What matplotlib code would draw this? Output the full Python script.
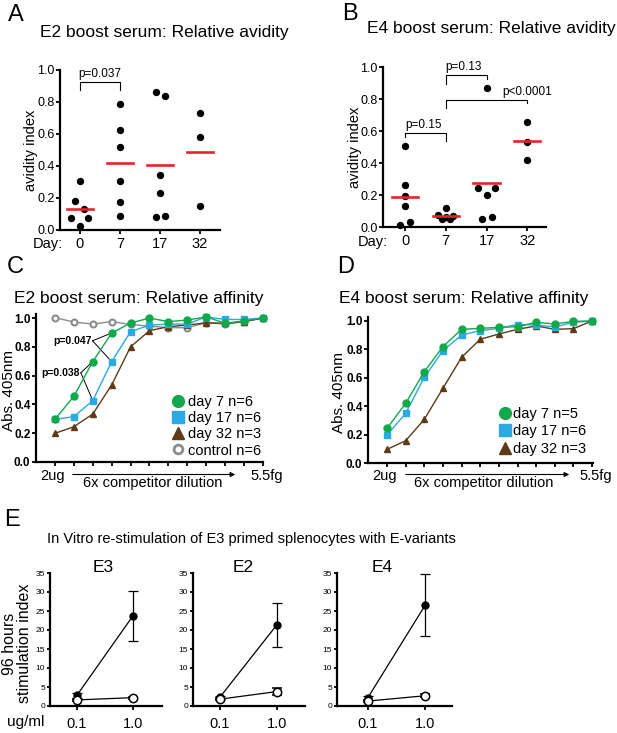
import numpy as np
import matplotlib
matplotlib.use('Agg')
import matplotlib.pyplot as plt
from matplotlib.lines import Line2D

plt.rcParams['font.family'] = ['Liberation Sans', 'DejaVu Sans']

W, H = 617, 733

# A / B: avidity index per day (dots) with jitter offsets
days = ['0', '7', '17', '32']
e2_avidity = [[0.306, 0.183, 0.077, 0.131, 0.073, 0.027],
              [0.79, 0.627, 0.519, 0.304, 0.177, 0.085],
              [0.865, 0.835, 0.344, 0.233, 0.079, 0.085],
              [0.731, 0.583, 0.148]]
e2_jitter = [[0, -0.125, -0.22, 0.11, 0.21, 0],
             [0, 0, 0, 0, 0, 0],
             [-0.11, 0.125, 0, 0, -0.11, 0.125],
             [0, 0, 0]]
e4_avidity = [[0.508, 0.263, 0.196, 0.129, 0.013, 0.029],
              [0.12, 0.075, 0.07, 0.05, 0.05, 0.06],
              [0.871, 0.242, 0.242, 0.2, 0.05, 0.06],
              [0.656, 0.533, 0.419]]
e4_jitter = [[0, 0, 0, 0, -0.115, 0.12],
             [0, -0.19, 0.18, -0.1, 0.1, 0],
             [0, -0.2, 0.2, 0, -0.1, 0.14],
             [0, 0, 0]]

# C / D: relative affinity over 12 dilution steps
steps = np.arange(12)
c_day7 = [0.296, 0.456, 0.697, 0.896, 0.965, 1.0, 0.975, 0.986, 1.008, 0.963, 0.98, 1.0]
c_day17 = [0.296, 0.315, 0.426, 0.697, 0.905, 0.951, 0.958, 0.958, 1.008, 0.99, 0.99, 1.0]
c_day32 = [0.199, 0.245, 0.333, 0.535, 0.80, 0.912, 0.94, 0.951, 0.967, 0.963, 0.975, 1.0]
c_control = [1.003, 0.972, 0.958, 0.975, 0.955, 0.944, 0.933, 0.933, 0.967, 0.958, 0.975, 1.0]
d_day7 = [0.244, 0.42, 0.643, 0.819, 0.941, 0.948, 0.955, 0.96, 0.99, 0.979, 0.997, 1.0]
d_day17 = [0.197, 0.35, 0.603, 0.791, 0.901, 0.932, 0.948, 0.975, 0.972, 0.958, 0.99, 1.0]
d_day32 = [0.096, 0.157, 0.307, 0.526, 0.744, 0.871, 0.908, 0.941, 0.965, 0.941, 0.946, 1.0]

# E: stimulation index
conc = ['0.1', '1.0']
e3_filled, e3_filled_err = [2.8, 23.7], [0.7, 6.5]
e3_open, e3_open_err = [1.6, 2.2], [0.2, 0.3]
e2_filled, e2_filled_err = [2.3, 21.4], [0.4, 5.8]
e2_open, e2_open_err = [1.8, 3.8], [0.2, 1.0]
e4_filled, e4_filled_err = [2.2, 26.5], [0.5, 8.2]
e4_open, e4_open_err = [1.3, 2.7], [0.2, 0.4]

RED = '#e3242b'
GREEN = '#12a84b'
BLUE = '#2aaae2'
BROWN = '#5e3a16'
GRAY = '#8c8c8c'

fig = plt.figure(figsize=(W / 100, H / 100), dpi=100)


def px_rect(x0, y0, x1, y1):
    return [x0 / W, 1 - y1 / H, (x1 - x0) / W, (y1 - y0) / H]


def ftext(x, y, s, **kw):
    kw.setdefault('ha', 'center')
    kw.setdefault('va', 'center')
    fig.text(x / W, 1 - y / H, s, **kw)


def style(ax):
    for s in ['top', 'right']:
        ax.spines[s].set_visible(False)
    for s in ['left', 'bottom']:
        ax.spines[s].set_linewidth(1.6)
    ax.tick_params(width=1.3, length=3, direction='out')


def avidity_panel(rect, xlim, values, jitter, brackets, ylab_x):
    ax = fig.add_axes(px_rect(*rect))
    for i, (vals, jit) in enumerate(zip(values, jitter)):
        ax.scatter(i + np.array(jit), vals, s=28, color='black', linewidths=0,
                   zorder=3, clip_on=False)
        m = np.mean(vals)
        ax.plot([i - 0.32, i + 0.32], [m, m], color=RED, lw=1.9, zorder=4)
    ax.set_xlim(*xlim)
    ax.set_ylim(0, 1.0)
    ax.set_yticks(np.arange(0, 1.01, 0.2))
    ax.set_yticklabels(['%.1f' % v for v in np.arange(0, 1.01, 0.2)], fontsize=9)
    ax.set_xticks(range(len(days)))
    ax.set_xticklabels(days, fontsize=10.5)
    style(ax)
    ax.tick_params(axis='x', pad=2)
    ax.tick_params(axis='y', pad=1)
    ax.set_ylabel('avidity index', fontsize=10.5)
    ax.yaxis.set_label_coords(ylab_x, 0.5)
    for x1, x2, y, d1, d2, label, lx in brackets:
        ax.plot([x1, x1, x2, x2], [y - d1, y, y, y - d2], color='k', lw=0.8,
                clip_on=False)
        ax.text(lx, y + 0.015, label, ha='center', va='bottom', fontsize=8.5)
    return ax


def affinity_panel(rect, xlim, series, legend_left, legend_bottom, spacing, pad):
    ax = fig.add_axes(px_rect(*rect))
    handles = []
    for vals, color, marker, ms, label, open_m in series:
        if open_m:
            ax.plot(steps, vals, color=color, lw=1.0, marker=marker, ms=ms,
                    mfc='white', mec=color, mew=1.5, clip_on=False)
            handles.append(Line2D([], [], ls='none', marker=marker, ms=ms + 2,
                                  mfc='white', mec=color, mew=2.0, label=label))
        else:
            ax.plot(steps, vals, color=color, lw=1.0, marker=marker, ms=ms,
                    mec=color, clip_on=False)
            handles.append(Line2D([], [], ls='none', marker=marker, ms=ms + 3.5,
                                  color=color, label=label))
    ax.set_xlim(*xlim)
    ax.set_ylim(0, 1.03)
    ax.set_xticks(steps)
    ax.set_xticklabels([])
    ax.set_yticks(np.arange(0, 1.01, 0.2))
    ax.set_yticklabels(['%.1f' % v for v in np.arange(0, 1.01, 0.2)],
                       fontsize=8.5, fontweight='bold')
    style(ax)
    ax.tick_params(axis='y', pad=1)
    ax.set_ylabel('Abs. 405nm', fontsize=11)
    handles = handles[::-1]
    ax.legend(handles=handles, loc='lower left',
              bbox_to_anchor=(legend_left, legend_bottom), frameon=False,
              fontsize=10.5, borderpad=0, borderaxespad=0, handlelength=0.8,
              handletextpad=pad, labelspacing=spacing)
    return ax


# ---- A ----
ax_a = avidity_panel((60, 70, 220, 230), (-0.5, 3.5), e2_avidity, e2_jitter,
                     [(0, 1, 0.923, 0.048, 0.048, 'p=0.037', 0.5)], -0.14)
# ---- B ----
ax_b = avidity_panel((383, 67, 546, 227), (-0.54, 3.46), e4_avidity, e4_jitter,
                     [(0, 1, 0.585, 0.025, 0.05, 'p=0.15', 0.46),
                      (1, 2, 0.95, 0.056, 0.025, 'p=0.13', 1.44),
                      (1, 3, 0.794, 0.052, 0.021, 'p<0.0001', 3.0)], -0.13)

ftext(15.5, 15, 'A', fontsize=17)
ftext(350, 13.5, 'B', fontsize=17)
ftext(164, 33, 'E2 boost serum: Relative avidity', fontsize=12.5)
ftext(491.5, 29, 'E4 boost serum: Relative avidity', fontsize=12.5)
ftext(63, 244, 'Day:', ha='right', fontsize=10.5)
ftext(388, 242, 'Day:', ha='right', fontsize=10.5)

# ---- C ----
c_series = [(c_control, GRAY, 'o', 4.3, 'control n=6', True),
            (c_day32, BROWN, '^', 5.0, 'day 32 n=3', False),
            (c_day17, BLUE, 's', 4.5, 'day 17 n=6', False),
            (c_day7, GREEN, 'o', 5.0, 'day 7 n=6', False)]
ax_c = affinity_panel((36, 313.7, 263, 462), (-1.0, 11.0), c_series,
                      0.601, 0.03, 0.15, 0.28)
ax_c.yaxis.set_label_coords(-0.09, 0.48)
for x_txt, y_txt, idx, label in [(1.94, 0.842, 3, 'p=0.047'),
                                 (1.32, 0.62, 2, 'p=0.038')]:
    ax_c.text(x_txt, y_txt, label, ha='right', va='center', fontsize=7.5,
              fontweight='bold')
    for ser in (c_day7, c_day17):
        ax_c.plot([x_txt + 0.05, idx], [y_txt, ser[idx]], color='k', lw=0.7,
                  zorder=1)

# ---- D ----
d_series = [(d_day32, BROWN, '^', 5.0, 'day 32 n=3', False),
            (d_day17, BLUE, 's', 4.5, 'day 17 n=6', False),
            (d_day7, GREEN, 'o', 5.0, 'day 7 n=5', False)]
ax_d = affinity_panel((368, 316.7, 593, 463), (-1.02, 11.05), d_series,
                      0.583, 0.05, 0.22, 0.18)
ax_d.yaxis.set_label_coords(-0.098, 0.48)

ftext(15.5, 267.5, 'C', fontsize=17)
ftext(345.5, 267.5, 'D', fontsize=17)
ftext(139, 298, 'E2 boost serum: Relative affinity', fontsize=12.5)
ftext(464, 298, 'E4 boost serum: Relative affinity', fontsize=12.5)
for x2ug, x55, a0, a1, xmid in [(53, 267, 70, 238, 153), (385, 596, 403, 572, 484)]:
    ftext(x2ug, 476, '2ug', fontsize=10.5)
    ftext(x55, 476, '5.5fg', fontsize=10.5)
    fig.add_artist(matplotlib.patches.FancyArrowPatch(
        (a0 / W, 1 - 474.5 / H), (a1 / W, 1 - 474.5 / H),
        transform=fig.transFigure, arrowstyle='-|>', mutation_scale=7,
        lw=0.8, color='k'))
    ftext(xmid, 483, '6x competitor dilution', fontsize=10.5)

# ---- E ----
e_specs = [((50, 573, 162, 706), (-0.48, 1.52), e3_filled, e3_filled_err,
            e3_open, e3_open_err, 'E3', 103),
           ((193, 573, 305, 706), (-0.47, 1.49), e2_filled, e2_filled_err,
            e2_open, e2_open_err, 'E2', 243),
           ((337, 573, 452, 706), (-0.54, 1.47), e4_filled, e4_filled_err,
            e4_open, e4_open_err, 'E4', 382)]
for i, (rect, xlim, fv, fe, ov, oe, title, tx) in enumerate(e_specs):
    ax = fig.add_axes(px_rect(*rect))
    ax.errorbar(range(2), fv, yerr=fe, fmt='-o', color='k', ms=5, lw=0.9,
                elinewidth=0.9, capsize=3.5, capthick=0.9, clip_on=False)
    ax.errorbar(range(2), ov, yerr=oe, fmt='-o', color='k', mfc='white', mec='k',
                mew=1.1, ms=6, lw=0.9, elinewidth=0.9, capsize=3.5, capthick=0.9,
                clip_on=False)
    ax.set_xlim(*xlim)
    ax.set_ylim(0, 35)
    ax.set_yticks(range(0, 36, 5))
    ax.set_yticklabels([str(v) for v in range(0, 36, 5)], fontsize=6)
    ax.set_xticks(range(2))
    ax.set_xticklabels(conc, fontsize=10.5)
    style(ax)
    ax.tick_params(axis='x', pad=5)
    ax.tick_params(axis='y', pad=1, length=2.5)
    ftext(tx, 567, title, fontsize=12.5)
    if i == 0:
        ax.set_ylabel('96 hours\nstimulation index', fontsize=11.5, linespacing=1.0)
        ax.yaxis.set_label_coords(-0.16, 0.47)

ftext(12.5, 520.5, 'E', fontsize=17)
ftext(251, 539, 'In Vitro re-stimulation of E3 primed splenocytes with E-variants',
      fontsize=10.5)
ftext(25.5, 722, 'ug/ml', fontsize=11)

fig.savefig('out.png', dpi=100)
